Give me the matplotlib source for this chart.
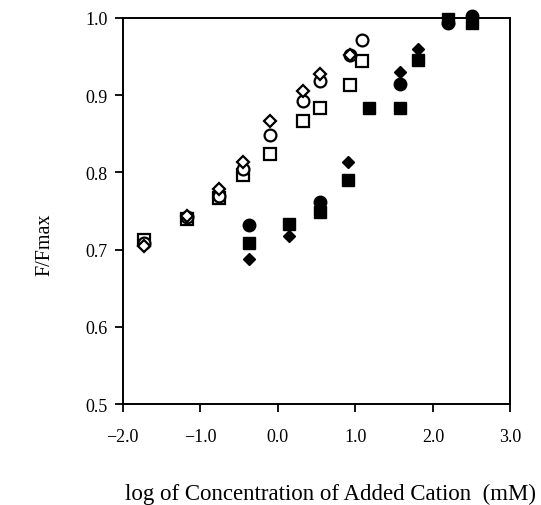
import matplotlib
matplotlib.use("Agg")
import matplotlib.pyplot as plt

# Open symbols
open_diamond_x = [-1.73, -1.17, -0.76, -0.45, -0.10, 0.32, 0.54, 0.93]
open_diamond_y = [0.705, 0.744, 0.778, 0.813, 0.866, 0.905, 0.927, 0.952]
open_circle_x = [-1.73, -1.17, -0.76, -0.45, -0.10, 0.32, 0.54, 0.93, 1.09]
open_circle_y = [0.709, 0.742, 0.770, 0.804, 0.849, 0.893, 0.919, 0.952, 0.971]
open_square_x = [-1.73, -1.17, -0.76, -0.45, -0.10, 0.32, 0.54, 0.93, 1.08]
open_square_y = [0.712, 0.740, 0.767, 0.796, 0.824, 0.866, 0.884, 0.913, 0.944]

# Filled symbols
filled_diamond_x = [-0.37, 0.14, 0.91, 1.57, 1.81, 2.20, 2.51]
filled_diamond_y = [0.688, 0.718, 0.813, 0.930, 0.960, 0.998, 0.998]
filled_circle_x = [-0.37, 0.54, 1.57, 2.20, 2.51]
filled_circle_y = [0.732, 0.761, 0.915, 0.994, 1.002]
filled_square_x = [-0.37, 0.14, 0.54, 0.91, 1.17, 1.57, 1.81, 2.20, 2.51]
filled_square_y = [0.709, 0.733, 0.749, 0.790, 0.884, 0.884, 0.945, 0.999, 0.994]

x_ticks = [-2.0, -1.0, 0.0, 1.0, 2.0, 3.0]
x_tick_labels = ["\u22122.0", "\u22121.0", "0.0", "1.0", "2.0", "3.0"]
y_ticks = [0.5, 0.6, 0.7, 0.8, 0.9, 1.0]
y_tick_labels = ["0.5", "0.6", "0.7", "0.8", "0.9", "1.0"]

plt.rcParams['font.family'] = ['Liberation Serif', 'DejaVu Serif']

fig = plt.figure(figsize=(5.41, 5.06), dpi=100)
ax = fig.add_axes([0.2268, 0.1996, 0.7168, 0.7629])

kw_open = dict(linestyle='none', markerfacecolor='white', markeredgecolor='black',
               markeredgewidth=1.6, clip_on=False)
kw_fill = dict(linestyle='none', color='black', clip_on=False)

ax.plot(open_square_x, open_square_y, marker='s', markersize=8, **kw_open)
ax.plot(open_circle_x, open_circle_y, marker='o', markersize=8.5, **kw_open)
ax.plot(open_diamond_x, open_diamond_y, marker='D', markersize=6, **kw_open)

ax.plot(filled_diamond_x, filled_diamond_y, marker='D', markersize=6.5, **kw_fill)
ax.plot(filled_circle_x, filled_circle_y, marker='o', markersize=9, **kw_fill)
ax.plot(filled_square_x, filled_square_y, marker='s', markersize=8.5, **kw_fill)

ax.set_xlim(-2.0, 3.0)
ax.set_ylim(0.5, 1.0)
ax.set_xticks(x_ticks)
ax.set_xticklabels(x_tick_labels)
ax.set_yticks(y_ticks)
ax.set_yticklabels(y_tick_labels)
ax.tick_params(direction='out', length=6, width=1.3, labelsize=13, pad=5,
               top=False, right=False)
ax.tick_params(axis='x', pad=11)
for s in ax.spines.values():
    s.set_linewidth(1.4)

ax.set_xlabel("log of Concentration of Added Cation  (mM)", fontsize=16.5)
ax.xaxis.set_label_coords(0.537, -0.203)
ax.set_ylabel("F/Fmax", fontsize=14.5)
ax.yaxis.set_label_coords(-0.175, 0.415)

fig.savefig("out.png", dpi=100, facecolor='white')
